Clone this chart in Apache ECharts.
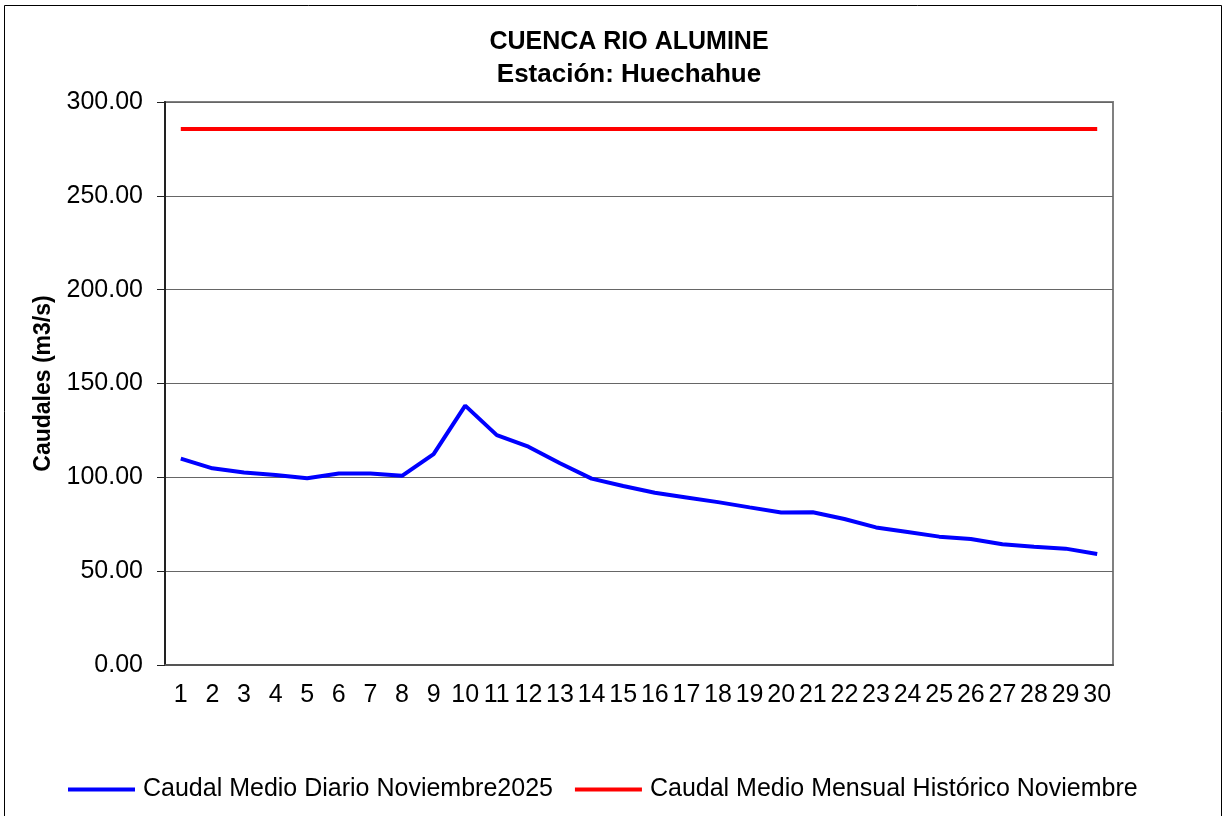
<!DOCTYPE html>
<html>
<head>
<meta charset="utf-8">
<script src="https://cdn.jsdelivr.net/npm/echarts@6/dist/echarts.min.js"></script>
<style>
html,body{margin:0;padding:0;background:#fff;}
#chart{width:1227px;height:816px;}
</style>
</head>
<body>
<div id="chart"></div>
<script>
// dias del mes
var dias = [];
for (var d = 1; d <= 30; d++) { dias.push(String(d)); }
// caudal medio diario noviembre 2025 (m3/s)
var caudalDiario = [110, 104.8, 102.6, 101.2, 99.5, 102, 102, 100.8, 112.4, 138.2,
    122.5, 116.3, 107.5, 99.3, 95.4, 91.8, 89.3, 86.8, 84.0, 81.3,
    81.4, 77.8, 73.3, 70.9, 68.4, 67.1, 64.3, 63.0, 62.0, 59.1];
// caudal medio mensual historico noviembre
var historico = 285.6;
var caudalHistorico = dias.map(function(){ return historico; });
var nombres = ['Caudal Medio Diario Noviembre2025', 'Caudal Medio Mensual Histórico Noviembre'];

var myChart = echarts.init(document.getElementById('chart'));
var fuente = 'Liberation Sans, Arial, sans-serif';
var option = {
    animation: false,
    backgroundColor: '#fff',
    textStyle: { fontFamily: fuente },
    title: {
        text: 'CUENCA RIO ALUMINE',
        subtext: 'Estación: Huechahue',
        left: 624,
        top: 25,
        textAlign: 'center',
        itemGap: 7,
        textStyle: { fontSize: 25, fontWeight: 'bold', color: '#000', fontFamily: fuente },
        subtextStyle: { fontSize: 26, fontWeight: 'bold', color: '#000', fontFamily: fuente }
    },
    graphic: [{
        type: 'rect',
        shape: { x: 4.5, y: 5.5, width: 1217, height: 830 },
        style: { fill: 'none', stroke: '#000', lineWidth: 1 },
        silent: true
    }],
    legend: {
        left: 63,
        top: 772,
        icon: 'rect',
        itemWidth: 67,
        itemHeight: 4,
        itemGap: 22,
        textStyle: { fontSize: 25, color: '#000', fontFamily: fuente, padding: [0, 0, 0, 3] },
        data: nombres
    },
    grid: { left: 165, right: 114, top: 102, bottom: 151, show: true, borderColor: '#808080', borderWidth: 2 },
    xAxis: {
        type: 'category',
        data: dias,
        boundaryGap: true,
        axisLine: { lineStyle: { color: '#555', width: 2 } },
        axisTick: { length: 6, lineStyle: { color: '#555' } },
        axisLabel: { fontSize: 25, color: '#000', margin: 18, interval: 0 }
    },
    yAxis: {
        type: 'value',
        min: 0,
        max: 300,
        interval: 50,
        name: 'Caudales (m3/s)',
        nameLocation: 'middle',
        nameGap: 104,
        nameTextStyle: { fontSize: 23, fontWeight: 'bold', color: '#000' },
        axisLine: { show: true, lineStyle: { color: '#222', width: 2 } },
        axisTick: { show: true, length: 8, lineStyle: { color: '#222' } },
        axisLabel: { fontSize: 25, color: '#000', margin: 22, formatter: function(v){ return v.toFixed(2); } },
        splitLine: { lineStyle: { color: '#666', width: 1 } }
    },
    series: [{
        name: nombres[0],
        type: 'line',
        data: caudalDiario,
        symbol: 'none',
        lineStyle: { color: '#0000ff', width: 4 },
        itemStyle: { color: '#0000ff' }
    }, {
        name: nombres[1],
        type: 'line',
        data: caudalHistorico,
        symbol: 'none',
        lineStyle: { color: '#ff0000', width: 4 },
        itemStyle: { color: '#ff0000' }
    }]
};
myChart.setOption(option);
</script>
</body>
</html>
